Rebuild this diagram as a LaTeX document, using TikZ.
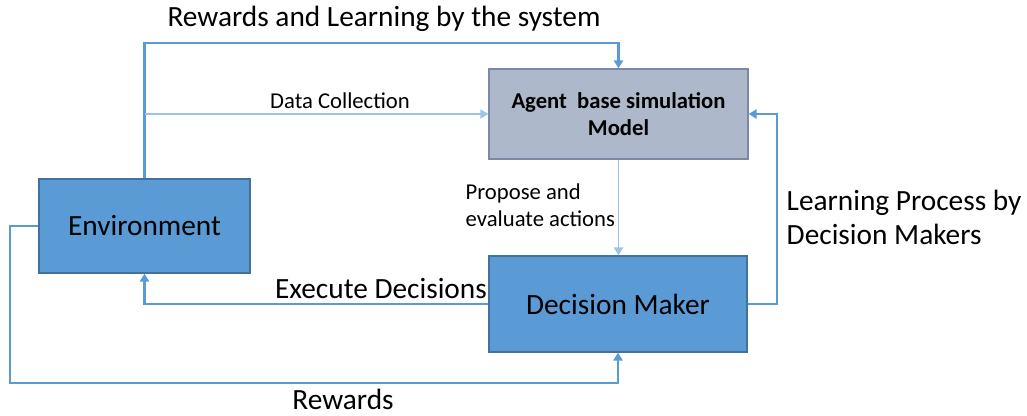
\documentclass[tikz,border=0pt]{standalone}
\usepackage{fontspec}
\setmainfont{Carlito}
\usetikzlibrary{arrows.meta,calc,positioning}
\definecolor{boxblue}{HTML}{5B9BD5}
\definecolor{boxedge}{HTML}{41719C}
\definecolor{agentfill}{HTML}{ADB9CA}
\definecolor{agentedge}{HTML}{7A8AA3}
\definecolor{flowblue}{HTML}{5B9BD5}
\definecolor{flowlight}{HTML}{9DC3E6}
\newcommand{\lblbig}{\fontsize{22}{25.5}\selectfont}
\newcommand{\lblsmall}{\fontsize{17}{20}\selectfont}
\tikzset{
	unitbox/.style={draw=boxedge, fill=boxblue, line width=1pt, inner sep=0pt, font=\lblbig},
	agentbox/.style={draw=agentedge, fill=agentfill, line width=1pt, inner sep=0pt, font=\lblsmall\bfseries, align=center},
	flow/.style={draw=flowblue, line width=1.9pt, -{Triangle[width=7pt,length=6pt]}},
	thinflow/.style={draw=flowlight, line width=1pt, -{Triangle[width=7pt,length=6pt]}},
}
\begin{document}
\begin{tikzpicture}[x=0.75pt,y=-0.75pt]
                        \useasboundingbox (0,0) rectangle (1027,415);

                        % Boxes
                        \node [unitbox, minimum width=158.25pt, minimum height=70.5pt] (env) at (144.5,226) {Environment};
                        \node [agentbox, minimum width=194.25pt, minimum height=67.5pt] (agent) at (618.5,114) {Agent\ \ base simulation\\Model};
                        \node [unitbox, minimum width=193.5pt, minimum height=72pt] (dm) at (618,304) {Decision Maker};

                        % Rails
                        \coordinate (toprail) at (0,43);
                        \coordinate (lowrail) at (10,383);
                        \coordinate (rightrail) at (777,0);

                        % Rewards and learning by the system
                        \draw [flow] (env.north) |- (toprail -| agent.north) -- (agent.north);

                        % Data collection
                        \draw [thinflow] (env.north |- agent.west) -- (agent.west);

                        % Propose and evaluate
                        \draw [thinflow] (agent.south) -- (agent.south |- dm.north);

                        % Execute decisions
                        \draw [flow] (dm.west) -| (env.south);

                        % Rewards
                        \draw [flow] (env.west) -| (lowrail) -| (dm.south);

                        % Learning process
                        \draw [flow] (dm.east) -- (dm.east -| rightrail) |- (agent.east);

                        % Labels
                        \node [font=\lblbig] (toplbl) at (384,19) {Rewards and Learning by the system};
                        \node [font=\lblsmall] (datalbl) at (340,101) {Data Collection};
                        \node [font=\lblsmall, align=left, anchor=west] (proplbl) at (461,205) {Propose and\\evaluate actions};
                        \node [font=\lblbig, align=left, anchor=west] (learnlbl) at (782,217) {Learning Process by\\Decision Makers};
                        \node [font=\lblbig] (execlbl) at (381,289) {Execute Decisions};
                        \node [font=\lblbig, inner sep=1pt] (rewardlbl) at (343,399) {Rewards};
\end{tikzpicture}
\end{document}
